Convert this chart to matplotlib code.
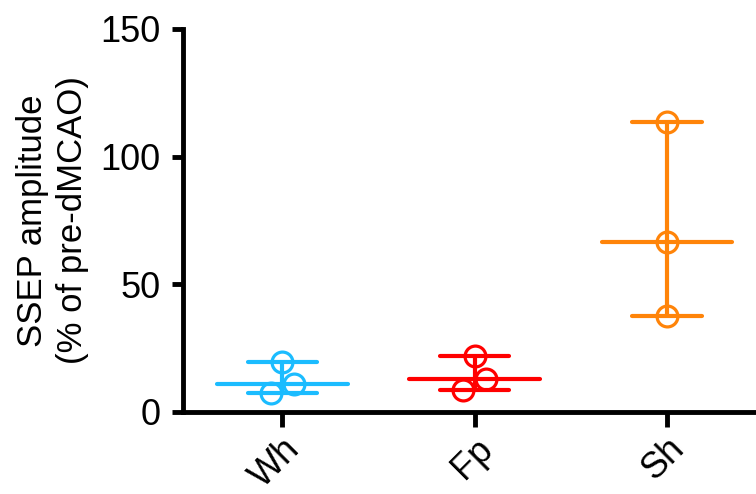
import matplotlib
matplotlib.use("Agg")
import matplotlib.pyplot as plt
import numpy as np

categories = ["Wh", "Fp", "Sh"]
colors = ["#1BBCFF", "#FF0000", "#FF8409"]
values = [
    [19.5, 11.0, 7.5],
    [22.0, 12.7, 8.5],
    [113.7, 66.4, 37.7],
]
jitter = [
    [0.0, 0.06, -0.06],
    [0.0, 0.06, -0.06],
    [0.0, 0.0, 0.0],
]

plt.rcParams['font.family'] = ['Liberation Sans', 'DejaVu Sans']

fig = plt.figure(figsize=(7.56, 4.94), dpi=100)
ax = fig.add_axes([0.242, 0.1666, 0.758, 0.7747])

lw = 3.0
for i, (vals, col) in enumerate(zip(values, colors)):
    v = np.array(vals)
    med = np.median(v)
    lo, hi = v.min(), v.max()
    ax.plot([i, i], [lo, hi], color=col, lw=lw, solid_capstyle='round', zorder=2)
    ax.plot([i - 0.18, i + 0.18], [lo, lo], color=col, lw=lw, solid_capstyle='round', zorder=2)
    ax.plot([i - 0.18, i + 0.18], [hi, hi], color=col, lw=lw, solid_capstyle='round', zorder=2)
    ax.plot([i - 0.34, i + 0.34], [med, med], color=col, lw=lw, solid_capstyle='round', zorder=2)
    ax.plot(i + np.array(jitter[i]), v, linestyle='none', marker='o', ms=15,
            mfc='none', mec=col, mew=2.3, zorder=3)

ax.set_xlim(-0.5176, 2.463)
ax.set_ylim(0, 150)
ax.set_yticks([0, 50, 100, 150])
ax.set_xticks(range(len(categories)))
ax.set_xticklabels(categories, rotation=45, ha='right', rotation_mode='anchor')
ax.tick_params(axis='both', labelsize=26, width=3.5, color='black')
ax.tick_params(axis='x', length=11, pad=3)
ax.tick_params(axis='y', length=8, pad=8)
for s in ['top', 'right']:
    ax.spines[s].set_visible(False)
for s in ['left', 'bottom']:
    ax.spines[s].set_linewidth(3.5)
ax.spines['left'].set_capstyle('projecting')
ax.set_ylabel("SSEP amplitude\n(% of pre-dMCAO)", fontsize=25, labelpad=8, linespacing=1.3)

fig.savefig("out.png", dpi=100)
